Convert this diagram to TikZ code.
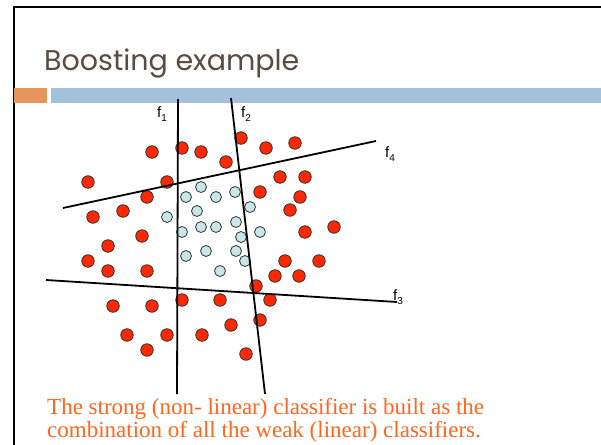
\documentclass[tikz,border=0pt]{standalone}
\usepackage{fontspec}
\setmainfont{Liberation Serif}
\newfontfamily\titlefont{Poppins}
\newfontfamily\labelfont{Liberation Sans}
\definecolor{titlecol}{RGB}{89,74,66}
\definecolor{barorange}{RGB}{229,148,90}
\definecolor{barblue}{RGB}{163,193,218}
\definecolor{dotred}{RGB}{255,40,0}
\definecolor{dotblue}{RGB}{200,230,232}
\definecolor{textorange}{RGB}{255,102,30}
\tikzset{
  reddot/.style={circle,draw=black!80,line width=0.8pt,fill=dotred,minimum size=12.5pt,inner sep=0pt},
  bluedot/.style={circle,draw=black!80,line width=0.8pt,fill=dotblue,minimum size=11pt,inner sep=0pt},
  weakline/.style={line width=1.8pt,black},
  flabel/.style={anchor=base west,inner sep=0pt,font=\labelfont\fontsize{15}{15}\selectfont}
}
\newcommand{\subn}[1]{\raisebox{-4pt}{\fontsize{10}{10}\selectfont #1}}
\begin{document}
\begin{tikzpicture}[x=1pt,y=-1pt]
\useasboundingbox (0,0) rectangle (601,444);
\fill[white] (0,0) rectangle (601,444);
% frame
\draw[line width=2pt] (13.5,470) -- (13.5,7) -- (640,7);
% title
\node[anchor=base west,inner sep=0pt,text=titlecol,font=\titlefont\fontsize{28.5}{28.5}\selectfont] (title) at (44,70) {Boosting example};
% bars
\fill[barorange] (14,88) rectangle (47,103);
\fill[barblue] (51,88) rectangle (601,103);
% red dots
\foreach \x/\y [count=\i] in {152/152,182/148,201/152,226/162,241/138,266/148,295/143,88/182,167/182,280/177,305/177,147/197,260/192,300/197,123/211,93/217,290/210,142/236,305/232,334/227,108/246,88/261,285/261,319/261,108/271,147/271,275/276,299/276,256/286,182/300,220/300,270/300,113/306,152/306,260/320,231/325,127/335,167/335,202/335,147/350,246/354}
  \node[reddot] (r\i) at (\x,\y) {};
% blue dots
\foreach \x/\y [count=\i] in {201/187,186/197,216/197,235/192,197/211,250/207,167/217,182/232,201/227,216/227,236/222,241/237,260/232,186/256,206/251,236/251,245/261,220/271}
  \node[bluedot] (b\i) at (\x,\y) {};
% weak classifiers
\coordinate (f1a) at (178,99);  \coordinate (f1b) at (177,394);
\coordinate (f2a) at (231,98);  \coordinate (f2b) at (265,394);
\coordinate (f4a) at (63,208);  \coordinate (f4b) at (376,141);
\coordinate (f3a) at (46,280);  \coordinate (f3b) at (397,302);
\draw[weakline] (f1a) -- (f1b);
\draw[weakline] (f2a) -- (f2b);
\draw[weakline] (f4a) -- (f4b);
\draw[weakline] (f3a) -- (f3b);
% labels
\node[flabel] (l1) at (157,117) {f\subn{1}};
\node[flabel] (l2) at (241,117) {f\subn{2}};
\node[flabel] (l4) at (385,157) {f\subn{4}};
\node[flabel] (l3) at (393,300) {f\subn{3}};
% caption
\node[anchor=base west,inner sep=0pt,text=textorange,align=left,font=\fontsize{23}{22.5}\selectfont] (cap) at (47,437) {The strong (non- linear) classifier is built as the\\combination of all the weak (linear) classifiers.};
\end{tikzpicture}
\end{document}
